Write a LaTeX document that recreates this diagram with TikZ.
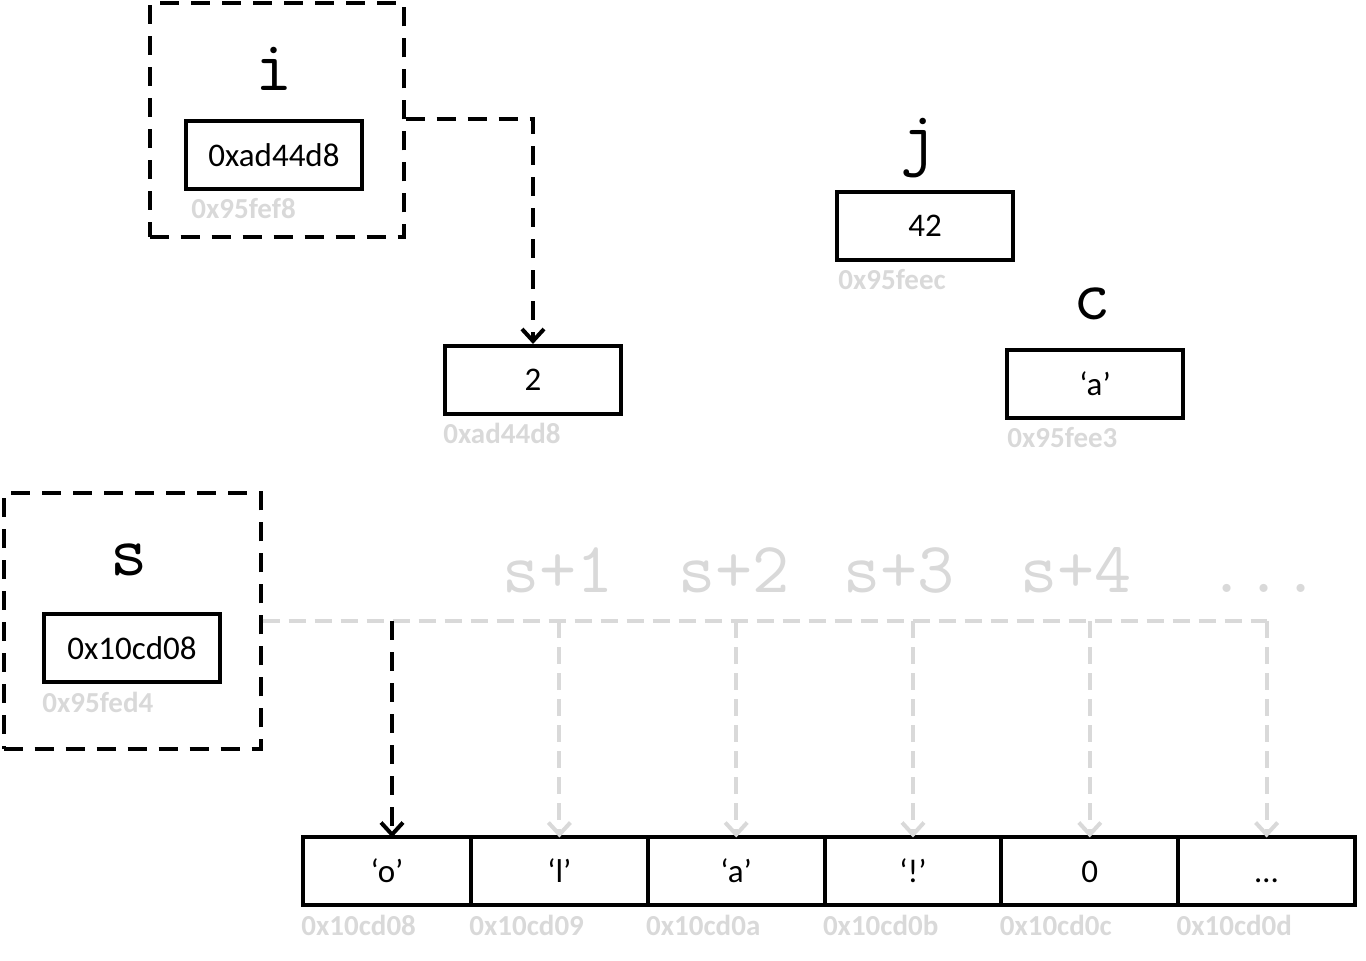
\documentclass[tikz,border=0pt]{standalone}
\usepackage{fontspec}
\setmainfont{Carlito}
\usetikzlibrary{positioning,arrows.meta}
\definecolor{faint}{HTML}{D9D9D9}

\tikzset{
  box/.style={draw, line width=2pt, minimum width=88pt, minimum height=34pt,
    inner sep=0pt, font=\fontsize{16.5}{20}\selectfont},
  frame/.style={draw, line width=2pt, dash pattern=on 9.5pt off 6pt},
  var/.style={inner sep=0pt, anchor=base, font=\ttfamily\fontsize{36}{40}\selectfont},
  ghost/.style={var, text=faint},
  addr/.style={inner sep=0pt, anchor=north west, text=faint,
    font=\bfseries\fontsize{14.5}{17}\selectfont},
  cell/.style={box, outer sep=0pt, minimum width=88.4pt, minimum height=34pt,
    text height=11pt, text depth=0pt},
  ptr/.style={line width=2pt, dash pattern=on 9.5pt off 6pt,
    -{Straight Barb[length=6pt,width=11pt]}},
  gptr/.style={ptr, draw=faint, dash pattern=on 8.5pt off 4.5pt}
}

\begin{document}
\begin{tikzpicture}[x=0.5pt, y=-0.5pt]
  \useasboundingbox (0,0) rectangle (1366,961);

  % pointer i and its target
  \node[frame, minimum width=127pt, minimum height=117pt] (ibox) at (276.5,120.5) {}; %
  \node[box] (ival) at (274,155) {0xad44d8}; %
  \node[above=14pt of ival, var] (iname) {i}; %
  \node[below=3.5pt of ival.south west, addr, xshift=3.5pt] (iaddr) {0x95fef8}; %
  \node[box] (two) at (533,380) {2}; %
  \node[below=3.5pt of two.south west, addr] (twoaddr) {0xad44d8}; %

  % plain variables j and c
  \node[box] (jval) at (925,226) {42}; %
  \node[above=14pt of jval, var, xshift=-3pt] (jname) {j}; %
  \node[below=3.5pt of jval.south west, addr, xshift=1.5pt] (jaddr) {0x95feec}; %
  \node[box] (cval) at (1095,384) {‘a’}; %
  \node[above=14pt of cval, var, xshift=-1.5pt] (cname) {c}; %
  \node[below=3.5pt of cval.south west, addr, xshift=1pt] (caddr) {0x95fee3}; %

  % pointer s
  \node[frame, minimum width=128.5pt, minimum height=128pt] (sbox) at (132,621.5) {}; %
  \node[box] (sval) at (132,648.5) {0x10cd08}; %
  \node[above=18.5pt of sval, var, xshift=-1.5pt] (sname) {s}; %
  \node[below=3.5pt of sval.south west, addr] (saddr) {0x95fed4}; %

  % the char array
  \node[cell, minimum width=84pt] (c1) at (387,871.5) {‘o’}; %
  \foreach \v [count=\k from 2, remember=\k as \p (initially 1)] in {‘l’, ‘a’, ‘!’, 0, …}
    \node[cell, right=0pt of c\p] (c\k) {\v}; %
  \foreach \k/\a in {1/08, 2/09, 3/0a, 4/0b, 5/0c, 6/0d}
    \node[below=4.5pt of c\k.south west, addr, xshift=-1pt] (a\k) {0x10cd\a}; %

  % offsets
  \foreach \t/\x [count=\k] in {s+1/558, s+2/734, s+3/899, s+4/1076}
    \node[ghost] (off\k) at (\x,593) {\t}; %
  \node[ghost] (offdots) at (1264,593) {...}; %

  \draw[ptr] (ibox.east |- ival.north) -| (two.north); %
  \draw[ptr, -, draw=faint, dash pattern=on 8.5pt off 4.5pt] (sbox.east) -- (c6.north |- sbox.east); %
  \foreach \k in {2,...,6}
    \draw[gptr] (c\k.north |- sbox.east) -- (c\k.north); %
  \draw[ptr] ([xshift=2.5pt]c1.north |- sbox.east) -- ([xshift=2.5pt]c1.north); %

\end{tikzpicture}
\end{document}
